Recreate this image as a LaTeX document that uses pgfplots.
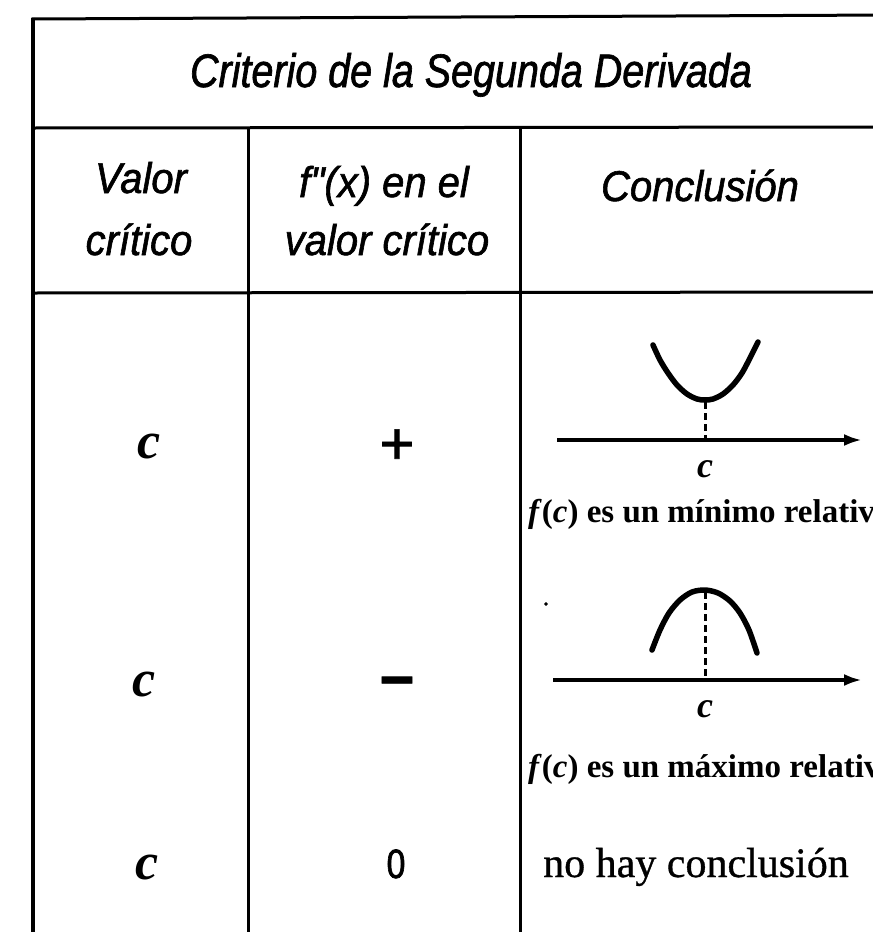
\documentclass[border=0pt]{standalone}
\usepackage{fontspec}
\usepackage{pgfplots}
\pgfplotsset{compat=1.18}
\usetikzlibrary{arrows.meta}
\setmainfont{Liberation Serif}
\newfontfamily\hdr[FakeStretch=0.93, FakeBold=1.4]{Liberation Sans}
\newfontfamily\ttl[FakeStretch=0.84, FakeBold=1.4]{Liberation Sans}
\newfontfamily\zerofont[FakeStretch=0.82, FakeBold=1.6]{Liberation Sans}
\newfontfamily\sans[FakeBold=1.2]{Liberation Sans}
\newfontfamily\serifheavy[FakeBold=0.8]{Liberation Serif}
\begin{document}
\begin{tikzpicture}
\begin{axis}[scale only axis, width=873pt, height=932pt,
  xmin=0, xmax=873, ymin=0, ymax=932, y dir=reverse,
  axis lines=none, clip=false]
\coordinate (LL) at (axis cs:0,932);
\coordinate (UR) at (axis cs:873,0);
% table rules
\addplot[black, line width=3pt] coordinates {(31.5,19) (890,15)};
\addplot[black, line width=3.5pt] coordinates {(33,17.5) (33,940)};
\addplot[black, line width=3pt] coordinates {(33,128) (890,127)};
\addplot[black, line width=3pt] coordinates {(33,293) (890,292)};
\addplot[black, line width=3pt] coordinates {(248,128) (248,940)};
\addplot[black, line width=3pt] coordinates {(520,128) (520,940)};
% minimum sketch
\addplot[black, line width=5.5pt, line cap=round, smooth] coordinates {
 (653,345) (660,360) (668,373) (677,385) (687,394) (697,399) (705,400)
 (713,399) (723,394) (733,385) (742,373) (750,358) (758,342)};
\addplot[black, line width=3pt, dash pattern=on 7pt off 4pt] coordinates {(705,402) (705,438)};
\addplot[black, line width=4.5pt, -{Latex[length=18pt,width=12pt]}] coordinates {(557,440) (862,440)};
% maximum sketch
\addplot[black, line width=5.5pt, line cap=round, smooth] coordinates {
 (652,650) (660,630) (669,613) (680,600) (692,592) (705,590)
 (718,593) (730,601) (740,613) (749,630) (757,653)};
\addplot[black, line width=3pt, dash pattern=on 7pt off 4pt] coordinates {(705,592) (705,678)};
\addplot[black, line width=4.5pt, -{Latex[length=18pt,width=12pt]}] coordinates {(553,680) (862,680)};
% stray dot
\addplot[only marks, mark=*, mark size=1.6pt, black] coordinates {(546,604)};
% title and headers
\node[anchor=base, inner sep=0pt, font=\ttl\itshape\fontsize{47}{50}\selectfont] at (axis cs:471,87) {Criterio de la Segunda Derivada};
\node[anchor=base, inner sep=0pt, font=\hdr\itshape\fontsize{43}{46}\selectfont] at (axis cs:141,193) {Valor};
\node[anchor=base, inner sep=0pt, font=\hdr\itshape\fontsize{43}{46}\selectfont] at (axis cs:139,255) {crítico};
\node[anchor=base, inner sep=0pt, font=\hdr\itshape\fontsize{43}{46}\selectfont] at (axis cs:384,197) {f"(x) en el};
\node[anchor=base, inner sep=0pt, font=\hdr\itshape\fontsize{43}{46}\selectfont] at (axis cs:387,255) {valor crítico};
\node[anchor=base, inner sep=0pt, font=\hdr\itshape\fontsize{43}{46}\selectfont] at (axis cs:700,201) {Conclusión};
% column 1
\node[anchor=base, inner sep=0pt, font=\bfseries\itshape\fontsize{52}{54}\selectfont] at (axis cs:149,458) {c};
\node[anchor=base, inner sep=0pt, font=\bfseries\itshape\fontsize{52}{54}\selectfont] at (axis cs:144,696) {c};
\node[anchor=base, inner sep=0pt, font=\bfseries\itshape\fontsize{52}{54}\selectfont] at (axis cs:147,879) {c};
% column 2
\node[anchor=base, inner sep=0pt, font=\sans\fontsize{60}{62}\selectfont] at (axis cs:397,464) {+};
\node[anchor=base, inner sep=0pt, font=\sans\bfseries\fontsize{60}{62}\selectfont] at (axis cs:397,700) {−};
\node[anchor=base, inner sep=0pt, font=\zerofont\fontsize{41}{43}\selectfont] at (axis cs:396,878) {0};
% column 3
\node[anchor=base, inner sep=0pt, font=\bfseries\itshape\fontsize{36}{38}\selectfont] at (axis cs:705,477) {c};
\node[anchor=base, inner sep=0pt, font=\bfseries\itshape\fontsize{36}{38}\selectfont] at (axis cs:705,717) {c};
\node[anchor=base west, inner sep=0pt, font=\bfseries\fontsize{33}{35}\selectfont] at (axis cs:528,522) {\textit{f}(\textit{c}) es un mínimo relativo};
\node[anchor=base west, inner sep=0pt, font=\bfseries\fontsize{33}{35}\selectfont] at (axis cs:528,777) {\textit{f}(\textit{c}) es un máximo relativo};
\node[anchor=base west, inner sep=0pt, font=\serifheavy\fontsize{42}{44}\selectfont] at (axis cs:543,877) {no hay conclusión};
\end{axis}
\pgfresetboundingbox
\useasboundingbox (LL) rectangle (UR);
\end{tikzpicture}
\end{document}
